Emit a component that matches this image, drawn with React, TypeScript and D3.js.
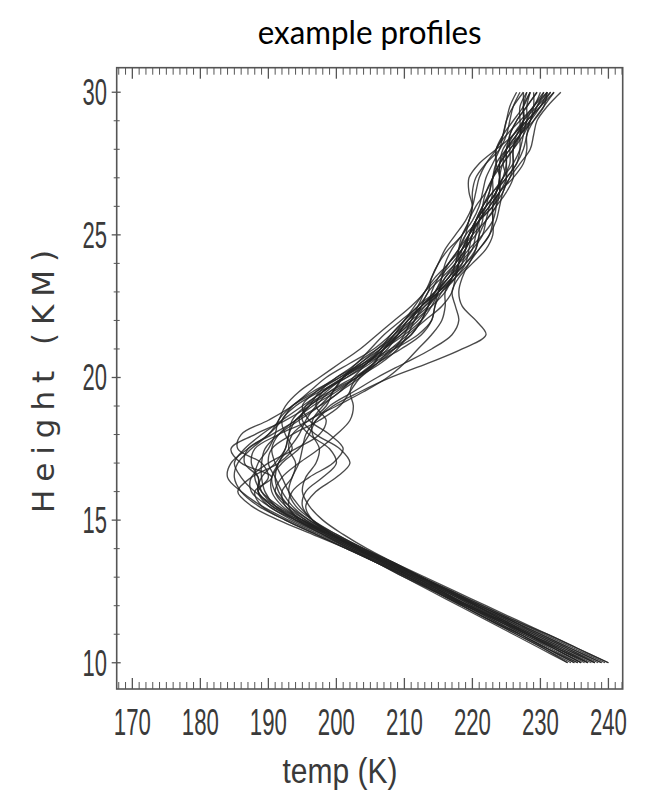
import React from 'react';
import * as d3 from 'd3';

const heightsKm = [10, 10.5, 11, 11.5, 12, 12.5, 13, 13.5, 14, 14.5, 15, 15.5, 16, 16.5, 17, 17.5, 18, 18.5, 19, 19.5, 20, 20.5, 21, 21.5, 22, 22.5, 23, 23.5, 24, 24.5, 25, 25.5, 26, 26.5, 27, 27.5, 28, 28.5, 29, 29.5, 30];

const profile01 = [240, 235.5, 231, 226.5, 222, 217.5, 213, 208.5, 204, 199.5, 195, 191, 188, 186, 185, 186.5, 189, 192, 195, 198, 201, 204.5, 207, 209, 210.5, 212.5, 215, 217, 218, 218.5, 219.5, 221, 223, 224.5, 225, 224.5, 225, 226.5, 228.5, 230, 231];
const profile02 = [234, 230.5, 226.5, 222.5, 218.5, 214.5, 210.5, 206.5, 202, 198, 194.5, 193, 193.5, 196, 199.5, 201, 199, 196, 195, 197, 200, 203, 205, 207, 209.5, 212, 213.5, 214, 215, 216.5, 218.5, 219.5, 220, 220, 220.5, 222, 224, 225, 225.5, 226, 227];
const profile03 = [236, 232, 227.5, 223.5, 219, 215, 211, 206.5, 202, 197.5, 193, 189, 186, 184, 184.5, 187, 190, 192, 193.5, 196.5, 200.5, 204, 207, 209.5, 211.5, 212.5, 213.5, 215.5, 217.5, 219, 220, 220.5, 221.5, 223, 224.5, 225.5, 225.5, 225.5, 226.5, 228, 229.5];
const profile04 = [239, 234.5, 230, 225.5, 221, 217, 212.5, 208, 204, 200, 196.5, 194, 193, 193.5, 194.5, 195, 195.5, 197, 199.5, 203.5, 208, 213.5, 218.5, 222, 220.5, 218.5, 218, 218.5, 219.5, 221, 222.5, 223.5, 224, 224.5, 225.5, 227, 228.5, 229, 229.5, 231, 233];
const profile05 = [235, 231, 227, 223, 219, 215.5, 211.5, 207.5, 203.5, 199.5, 196, 193, 191, 190.5, 191.5, 192.5, 193, 194, 196.5, 200, 203, 205.5, 207, 208.5, 210.5, 213, 215.5, 217.5, 218, 218, 218.5, 219.5, 220, 219.5, 219.5, 221, 223.5, 226, 227.5, 227.5, 227.5];
const profile06 = [238, 233.5, 229, 224.5, 220.5, 216.5, 212, 208, 203.5, 199, 194, 190, 188.5, 190, 189, 185.5, 186, 190, 193.5, 196, 198.5, 202, 205.5, 208, 210, 211.5, 213, 215, 217, 218.5, 219.5, 220.5, 222, 223.5, 224, 223.5, 223.5, 225, 227, 229, 230];
const profile07 = [236.5, 232.5, 228.5, 224.5, 220.5, 216.5, 212.5, 208.5, 204.5, 201, 198, 196, 195, 195.5, 197, 197.5, 196.5, 196.5, 198, 200.5, 203.5, 206, 208, 210.5, 213, 215.5, 217, 217.5, 218, 219.5, 221.5, 223, 223.5, 223.5, 224.5, 226, 227, 227.5, 228, 229, 230.5];
const profile08 = [237.5, 233, 228.5, 224, 219.5, 215.5, 211, 207, 202.5, 198, 193.5, 190, 187.5, 187.5, 190, 194, 197.5, 198.5, 197, 198, 201, 204, 206.5, 208.5, 210, 212, 214.5, 216.5, 217.5, 218, 219, 221, 223, 224, 224, 224, 225, 226.5, 227.5, 227.5, 228];
const profile09 = [234.5, 230.5, 226.5, 222.5, 218.5, 214.5, 210.5, 206, 201.5, 197, 192.5, 189, 188, 190.5, 186, 184.5, 188, 192.5, 196, 198.5, 201, 203.5, 206.5, 209.5, 212, 213.5, 214, 215, 216.5, 218.5, 220.5, 221.5, 221.5, 222, 223, 224.5, 226, 227, 227, 227, 228];
const profile10 = [237, 233, 228.5, 224.5, 220, 216, 212, 207.5, 203, 199, 195.5, 193, 191.5, 191, 191.5, 193, 194.5, 195.5, 197, 199, 202.5, 206, 208.5, 210, 211, 212.5, 214.5, 216.5, 218, 219, 219.5, 220.5, 222, 223.5, 224.5, 225, 225, 225.5, 226.5, 228, 229.5];
const profile11 = [238.5, 234, 229.5, 225.5, 221, 216.5, 212.5, 208, 203.5, 199.5, 195.5, 192.5, 191, 192, 194.5, 197.5, 200, 202, 202.5, 202, 203, 205.5, 208.5, 211, 212.5, 213.5, 215, 217, 219, 220.5, 221, 221, 221.5, 223, 225, 226.5, 227, 227, 227.5, 229, 231];
const profile12 = [235.5, 231.5, 227.5, 223.5, 219.5, 215, 211, 207, 203, 199, 195, 191.5, 189, 188, 188.5, 190, 191, 191.5, 193.5, 197, 200.5, 203.5, 206, 208.5, 211, 213.5, 215, 215.5, 216, 217, 218.5, 220, 221, 221.5, 222, 223, 224, 224.5, 225, 226, 227.5];
const profile13 = [239.5, 235, 230.5, 226, 221.5, 217, 212.5, 208, 203.5, 199, 194.5, 190.5, 188.5, 188.5, 186.5, 187, 190.5, 194, 196, 197.5, 200, 204, 208, 211, 212.5, 213.5, 214.5, 216, 218, 220, 221.5, 222, 222.5, 223, 223, 223.5, 225, 227, 228.5, 229.5, 230.5];
const profile14 = [236, 232, 228, 224, 219.5, 215.5, 211.5, 207, 203, 199.5, 196.5, 194.5, 193, 192, 191, 190.5, 191.5, 194, 197.5, 200.5, 202.5, 204.5, 207, 210, 212.5, 214, 215, 216, 217.5, 219, 220, 220.5, 221.5, 222.5, 223, 224, 225.5, 227, 228, 228, 228.5];
const profile15 = [238, 234, 229.5, 225, 220.5, 216.5, 212.5, 208.5, 204, 200, 196.5, 195, 195.5, 198, 200, 199, 196, 194.5, 196, 199.5, 203, 205.5, 207, 209, 211.5, 214, 216, 217, 217.5, 218.5, 220, 222, 223.5, 224, 224, 224.5, 226, 227.5, 228.5, 229, 229];
const profile16 = [234, 230, 226, 222, 218, 214, 210, 206, 202, 198, 194, 191, 189.5, 189, 189, 189.5, 191.5, 194.5, 197.5, 199.5, 201, 203, 206, 209, 211, 212, 213, 214.5, 216.5, 218, 219, 219.5, 220.5, 222, 223, 223.5, 223.5, 224.5, 226, 227.5, 228.5];
const profile17 = [237, 232.5, 228, 223.5, 219, 215, 210.5, 206, 201.5, 196.5, 191.5, 187.5, 185.5, 187.5, 191.5, 193.5, 192.5, 192, 194, 197.5, 201.5, 205, 207.5, 209, 210.5, 212.5, 215, 217.5, 219, 219.5, 220, 221, 222.5, 224, 225, 225, 225, 226, 227.5, 229.5, 231.5];
const profile18 = [239, 234.5, 230, 225.5, 221, 216.5, 212, 207.5, 203, 198.5, 194, 190.5, 188.5, 189, 191, 192.5, 193, 193.5, 195.5, 199, 203, 206.5, 209, 210.5, 211.5, 213, 215, 217, 218.5, 219, 219.5, 220.5, 222, 223.5, 224, 224, 224.5, 226, 228, 230, 231.5];
const profile19 = [236, 232, 228, 224, 220, 216, 211.5, 207, 202.5, 198.5, 195, 192.5, 192, 193.5, 194, 193, 193.5, 196, 200, 204, 207.5, 210, 212, 214, 215.5, 216, 216, 217, 219, 221, 222.5, 223, 223, 223.5, 225, 226.5, 227.5, 228, 228.5, 229.5, 231];
const profile20 = [235, 231, 227, 223, 219, 214.5, 210.5, 206.5, 202.5, 198.5, 194.5, 191, 189, 188.5, 187.5, 188, 191.5, 196, 198.5, 199.5, 201, 204.5, 208.5, 212, 214, 214.5, 215, 216.5, 218.5, 220, 220.5, 221, 222.5, 224, 225.5, 226, 226, 226.5, 228, 230, 232];
const profile21 = [238, 233.5, 229, 225, 220.5, 216, 212, 207.5, 203, 199, 195, 192, 190.5, 190.5, 192, 194.5, 196, 197, 199, 202.5, 206, 210, 214, 217, 218, 217.5, 217, 218, 220, 222, 223, 223, 223, 224, 226, 227.5, 228, 228, 229, 230.5, 232];
const profile22 = [235.5, 231, 227, 222.5, 218.5, 214.5, 210, 206, 201.5, 197, 192.5, 188.5, 186, 185, 185.5, 187.5, 190, 191.5, 192.5, 194.5, 197.5, 200.5, 203.5, 206, 208.5, 211, 213, 214, 215, 216, 217.5, 219, 220, 220.5, 221, 222, 223.5, 224.5, 225, 225.5, 226.5];
const profile23 = [240, 235.5, 231, 226, 221.5, 217, 212.5, 208, 203.5, 199.5, 196, 193.5, 192, 191, 190, 190.5, 193.5, 197.5, 200.5, 202, 203.5, 206, 209.5, 212.5, 214, 214.5, 215.5, 217.5, 219.5, 220.5, 221, 222, 223.5, 225, 226, 226, 226, 227, 229, 230.5, 231];
const profile24 = [237, 232.5, 228, 224, 219.5, 215.5, 211.5, 207, 203, 199.5, 196.5, 195.5, 197, 200, 202, 200.5, 197, 195, 195.5, 198, 201.5, 204.5, 206.5, 208, 210, 212.5, 214.5, 215.5, 216.5, 218, 219.5, 221, 222, 222.5, 223, 224, 225.5, 227, 227.5, 227.5, 228.5];

const profiles = [profile01, profile02, profile03, profile04, profile05, profile06, profile07, profile08, profile09, profile10, profile11, profile12, profile13, profile14, profile15, profile16, profile17, profile18, profile19, profile20, profile21, profile22, profile23, profile24];

const xTickValues = [170, 180, 190, 200, 210, 220, 230, 240];
const yTickValues = [10, 15, 20, 25, 30];
const titleText = 'example profiles';
const xLabelText = 'temp (K)';
const yLabelText = 'Height (KM)';

export default function App() {
  const W = 649;
  const H = 798;
  const left = 116.7;
  const right = 622.7;
  const top = 67.7;
  const bottom = 689;

  const x = d3.scaleLinear().domain([167.7, 242.1]).range([left, right]);
  const y = d3.scaleLinear().domain([9.08, 30.86]).range([bottom, top]);

  const line = d3
    .line<number>()
    .x((d) => x(d))
    .y((_, i) => y(heightsKm[i]))
    .curve(d3.curveCatmullRom.alpha(0.5));

  const xMinor = d3.range(168, 243, 1).filter((v) => v % 10 !== 0);
  const yMinor = d3.range(10, 31, 1).filter((v) => v % 5 !== 0);

  const axisColor = '#555';
  const textColor = '#3a3a3a';
  const tickFont = "'Liberation Sans', Arial, sans-serif";

  return (
    <svg
      width={W}
      height={H}
      style={{ position: 'absolute', left: 0, top: 0, background: '#fff' }}
    >
      <rect x={0} y={0} width={W} height={H} fill="#fff" />
      <text
        x={(left + right) / 2}
        y={44}
        textAnchor="middle"
        fontFamily="Lato, 'Open Sans', sans-serif"
        fontSize={33}
        fill="#000"
        textLength={224}
        lengthAdjust="spacingAndGlyphs"
      >
        {titleText}
      </text>

      <g>
        {profiles.map((p, i) => (
          <path
            key={i}
            d={line(p) || ''}
            fill="none"
            stroke="#222"
            strokeWidth={1.35}
            strokeOpacity={0.82}
          />
        ))}
      </g>

      {xMinor.map((v) => (
        <g key={'xm' + v}>
          <line x1={x(v)} x2={x(v)} y1={bottom} y2={bottom - 7} stroke={axisColor} strokeWidth={1} />
          <line x1={x(v)} x2={x(v)} y1={top} y2={top + 7} stroke={axisColor} strokeWidth={1} />
        </g>
      ))}
      {xTickValues.map((v) => (
        <g key={'xM' + v}>
          <line x1={x(v)} x2={x(v)} y1={bottom} y2={bottom - 11} stroke={axisColor} strokeWidth={1.3} />
          <line x1={x(v)} x2={x(v)} y1={top} y2={top + 11} stroke={axisColor} strokeWidth={1.3} />
          <text
            x={x(v)}
            y={735}
            textAnchor="middle"
            fontFamily={tickFont}
            fontSize={36}
            fill={textColor}
            textLength={37}
            lengthAdjust="spacingAndGlyphs"
          >
            {v}
          </text>
        </g>
      ))}

      {yMinor.map((v) => (
        <line key={'ym' + v} x1={left - 3} x2={left + 3} y1={y(v)} y2={y(v)} stroke={axisColor} strokeWidth={1} />
      ))}
      {yTickValues.map((v) => (
        <g key={'yM' + v}>
          <line x1={left - 5} x2={left + 4} y1={y(v)} y2={y(v)} stroke={axisColor} strokeWidth={1.3} />
          <text
            x={107}
            y={y(v) + 12.8}
            textAnchor="end"
            fontFamily={tickFont}
            fontSize={36}
            fill={textColor}
            textLength={24.5}
            lengthAdjust="spacingAndGlyphs"
          >
            {v}
          </text>
        </g>
      ))}

      <rect
        x={left}
        y={top}
        width={right - left}
        height={bottom - top}
        fill="none"
        stroke={axisColor}
        strokeWidth={1.6}
      />

      <text
        x={340}
        y={783}
        textAnchor="middle"
        fontFamily={tickFont}
        fontSize={35}
        fill={textColor}
        textLength={115}
        lengthAdjust="spacingAndGlyphs"
      >
        {xLabelText}
      </text>
      <text
        transform={`translate(54, ${381.5}) rotate(-90)`}
        textAnchor="middle"
        fontFamily="'DejaVu Sans', sans-serif"
        fontSize={31}
        fill={textColor}
        textLength={263}
        lengthAdjust="spacing"
      >
        {yLabelText}
      </text>
    </svg>
  );
}
